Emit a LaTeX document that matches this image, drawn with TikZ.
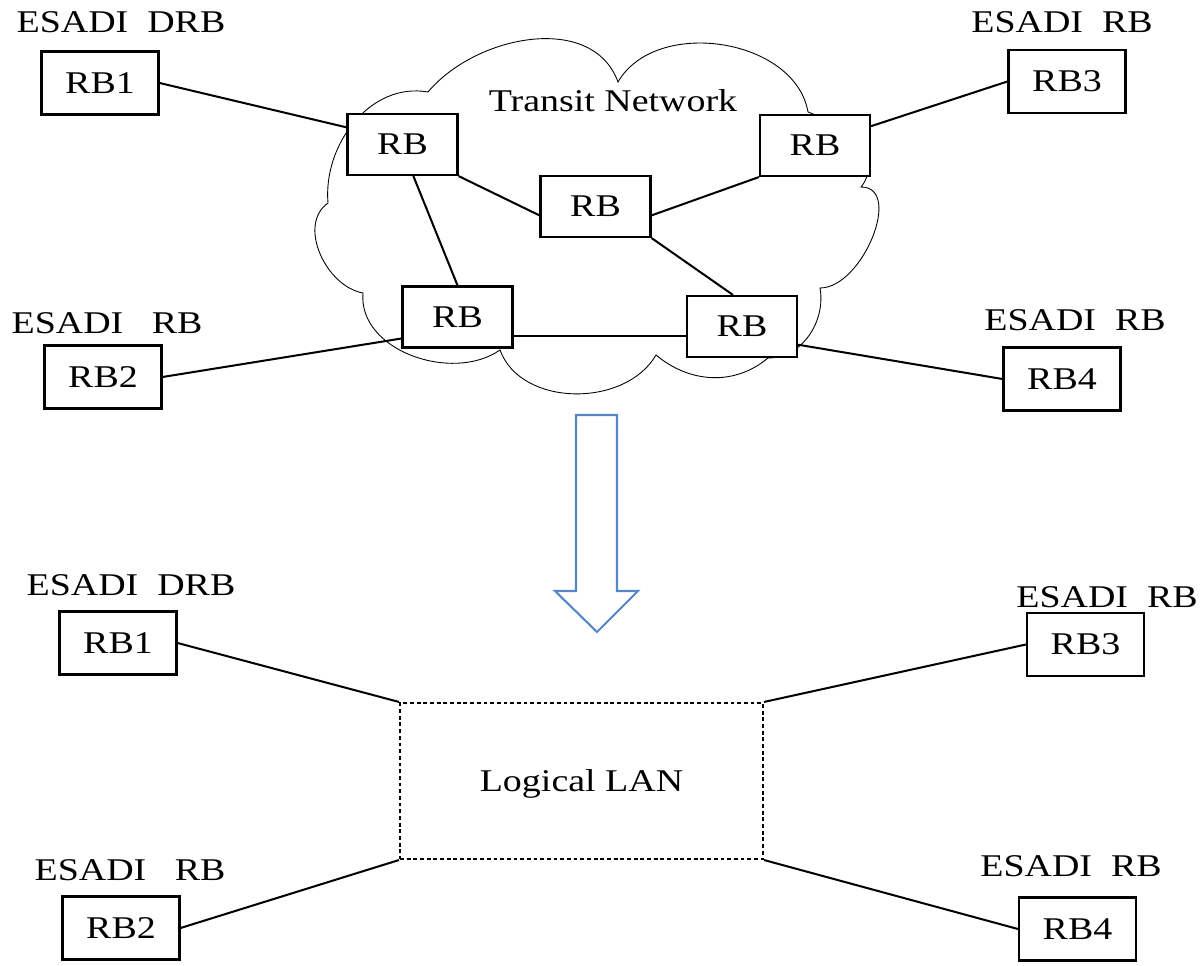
\documentclass[tikz,border=0pt]{standalone}
\usepackage{fontspec}
\setmainfont{Liberation Serif}[FakeStretch=1.2]
\usetikzlibrary{calc}

\definecolor{arrowblue}{RGB}{86,136,200}

\begin{document}
\begin{tikzpicture}[x=0.02cm, y=0.02cm,
  every node/.style={font=\fontsize{18}{21}\selectfont},
  outerbox/.style={draw, line width=1.25pt, fill=white, minimum width=2.34cm, minimum height=1.26cm},
  innerbox/.style={draw, line width=1.25pt, fill=white, minimum width=2.2cm, minimum height=1.22cm},
  lanbox/.style={draw, line width=1.2pt, dash pattern=on 2.2pt off 1.6pt, minimum width=7.26cm, minimum height=3.12cm, text depth=0pt},
  link/.style={line width=1.15pt}]

\useasboundingbox (0,0) rectangle (1203,966);

% Cloud
\draw[line width=0.5pt] (328,763) to[out=215,in=170] (363,673)
  to[out=265,in=215] (500,616)
  to[out=290,in=240] (656,611)
  to[out=320,in=220] (768,608)
  to[out=0,in=280] (820,678)
  to[out=0,in=0] (861,779)
  to[out=50,in=-20] (808,854)
  to[out=100,in=60] (618,884)
  to[out=110,in=50] (428,874)
  to[out=170,in=95] cycle;
\node (transit) at (613,865) {Transit Network};

% Routers in the transit network
\node[innerbox] (ra) at (402.5,821.5) {RB};
\node[innerbox] (rb) at (815,820.5) {RB};
\node[innerbox] (rc) at (595.5,759.5) {RB};
\node[innerbox] (rd) at (457.5,649) {RB};
\node[innerbox] (re) at (742,639.5) {RB};

% Edge routers, top
\node[outerbox] (top1) at (100,883) {RB1};
\node[outerbox] (top3) at (1067,884.5) {RB3};
\node[outerbox] (top2) at (103,589) {RB2};
\node[outerbox] (top4) at (1062,587) {RB4};
\node (toplbl1) at (121,944) {ESADI\ \ DRB};
\node (toplbl3) at (1062,944) {ESADI\ \ RB};
\node (toplbl2) at (107,643) {ESADI\ \ \ RB};
\node (toplbl4) at (1075,646) {ESADI\ \ RB};

% Links, top
\draw[link] (top1.east) -- (ra.163);
\draw[link] (top3.west) -- (rb.19);
\draw[link] (ra.south east) -- (rc.189);
\draw[link] (rc.-9) -- (rb.south west);
\draw[link] (rc.south east) -- (re.106);
\draw[link] (ra.-71) -- (rd.north);
\draw[link] (rd.-19) -- (re.west |- rd.-19);
\draw[link] (top2.east) -- (rd.201);
\draw[link] (re.-18) -- (top4.west);

% Block arrow
\draw[arrowblue, line width=1.2pt] (576,551) -- (617,551) -- (617,375) -- (638,375)
  -- (597,334) -- (555,375) -- (576,375) -- cycle;

% Logical LAN
\node[lanbox] (lan) at (581.5,185) {Logical LAN};

% Edge routers, bottom
\node[outerbox] (bot1) at (118,323) {RB1};
\node[outerbox] (bot3) at (1085.5,321.5) {RB3};
\node[outerbox] (bot2) at (121,38) {RB2};
\node[outerbox] (bot4) at (1077.5,37) {RB4};
\node (botlbl1) at (131,381) {ESADI\ \ DRB};
\node (botlbl3) at (1107,369) {ESADI\ \ RB};
\node (botlbl2) at (130,96) {ESADI\ \ \ RB};
\node (botlbl4) at (1071,100) {ESADI\ \ RB};

% Links, bottom
\draw[link] (bot1.east) -- (lan.north west);
\draw[link] (bot3.west) -- (lan.north east);
\draw[link] (bot2.east) -- (lan.south west);
\draw[link] (bot4.west) -- (lan.south east);

\end{tikzpicture}
\end{document}
